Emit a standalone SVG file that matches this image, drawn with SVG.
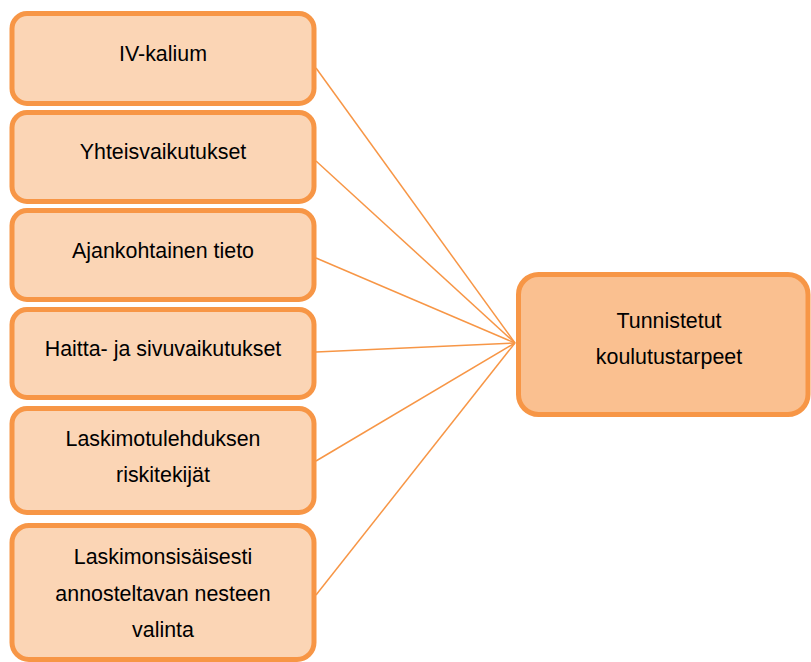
<svg xmlns="http://www.w3.org/2000/svg" width="811" height="662" viewBox="0 0 811 662">
<style>
.box{fill:#FBD5B5;stroke:#F79646;stroke-width:5}
.main{fill:#FAC090;stroke:#F79646;stroke-width:5}
.t{font-family:"Liberation Sans",Arial,sans-serif;font-size:21.4px;fill:#000;text-anchor:middle}
.c{stroke:#F79646;stroke-width:1.5;fill:none}
</style>
<rect width="811" height="662" fill="#fff"/>
<g id="connectors">
<line class="c" x1="316" y1="68" x2="515" y2="343"/>
<line class="c" x1="316" y1="161" x2="515" y2="343"/>
<line class="c" x1="316" y1="258" x2="515" y2="343"/>
<line class="c" x1="316" y1="352" x2="515" y2="343"/>
<line class="c" x1="316" y1="461" x2="515" y2="343"/>
<line class="c" x1="316" y1="595" x2="515" y2="343"/>
</g>
<g id="n1"><rect class="box" x="12" y="13.5" width="302" height="90" rx="15"/><text class="t" x="163" y="61">IV-kalium</text></g>
<g id="n2"><rect class="box" x="12" y="112.5" width="302" height="89" rx="15"/><text class="t" x="163" y="159">Yhteisvaikutukset</text></g>
<g id="n3"><rect class="box" x="12" y="210.5" width="302" height="89" rx="15"/><text class="t" x="163" y="258">Ajankohtainen tieto</text></g>
<g id="n4"><rect class="box" x="12" y="309.5" width="302" height="88" rx="15"/><text class="t" x="163" y="356">Haitta- ja sivuvaikutukset</text></g>
<g id="n5"><rect class="box" x="12" y="408.5" width="302" height="104" rx="15"/><text class="t" x="163" y="446">Laskimotulehduksen</text><text class="t" x="163" y="482">riskitekijät</text></g>
<g id="n6"><rect class="box" x="12" y="525.5" width="302" height="134" rx="17"/><text class="t" x="163" y="564">Laskimonsisäisesti</text><text class="t" x="163" y="601">annosteltavan nesteen</text><text class="t" x="163" y="637">valinta</text></g>
<g id="main"><rect class="main" x="518.5" y="274.5" width="289.5" height="140" rx="20"/><text class="t" x="669" y="328">Tunnistetut</text><text class="t" x="669" y="364">koulutustarpeet</text></g>
</svg>
